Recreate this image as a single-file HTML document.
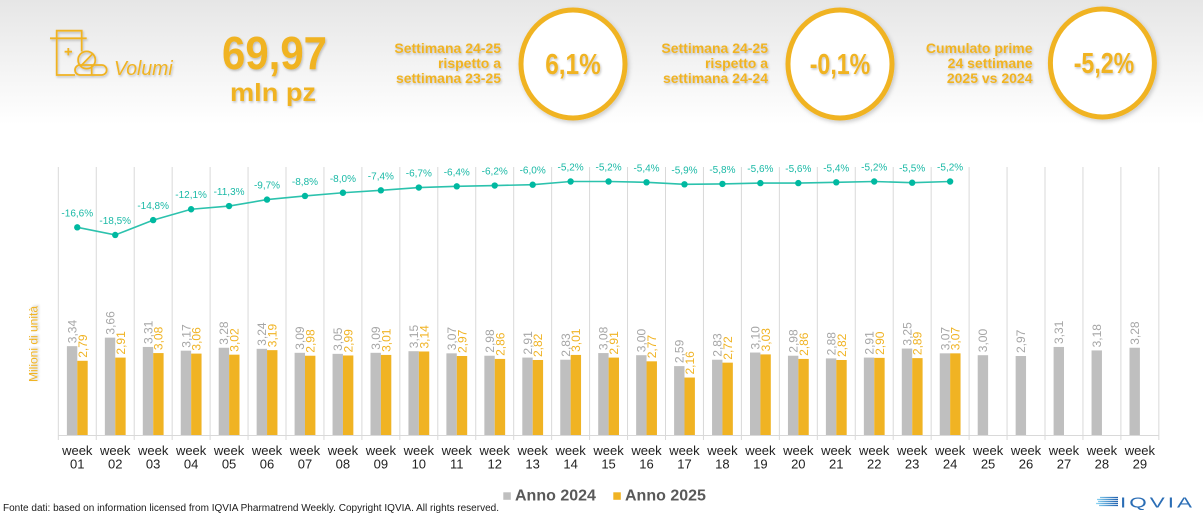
<!DOCTYPE html>
<html><head><meta charset="utf-8"><style>
html,body{margin:0;padding:0;background:#fff;}
svg{display:block;font-family:"Liberation Sans",Arial,sans-serif;}
</style></head><body>
<svg width="1203" height="517" viewBox="0 0 1203 517" xmlns="http://www.w3.org/2000/svg">
<defs>
<linearGradient id="hg" x1="0" y1="0" x2="0" y2="1">
<stop offset="0" stop-color="#e6e6e6"/><stop offset="0.55" stop-color="#f4f4f4"/><stop offset="1" stop-color="#ffffff"/>
</linearGradient>
<linearGradient id="lg" x1="0" y1="0" x2="1" y2="0">
<stop offset="0" stop-color="#8fd8f5"/><stop offset="1" stop-color="#1d5fae"/>
</linearGradient>
<filter id="sh" x="-20%" y="-20%" width="140%" height="140%"><feDropShadow dx="1" dy="1.5" stdDeviation="1" flood-color="#000" flood-opacity="0.22"/></filter>
<filter id="sh2" x="-20%" y="-20%" width="140%" height="140%"><feDropShadow dx="1.5" dy="2" stdDeviation="2" flood-color="#000" flood-opacity="0.2"/></filter>
</defs>
<rect x="0" y="0" width="1203" height="125" fill="url(#hg)"/>

<!-- icon -->
<g fill="none" stroke="#f0b323" stroke-width="1.8" filter="url(#sh)">
<path d="M56.7 38.3V30.7H81.7V38.3 M50 38.3H86.7 M56.7 38.3V75H75 M81.7 38.3V51.5 M68.3 48V55.4 M64.6 51.7H72"/>
<circle cx="86.7" cy="60" r="8.6"/>
<path d="M92.5 54 L80.8 66"/>
<rect x="75" y="65" width="31.7" height="10" rx="5" ry="5"/>
<path d="M91.7 65V75"/>
</g>
<text x="114" y="75" font-size="20" font-style="italic" fill="#f0b323" textLength="58.7" lengthAdjust="spacingAndGlyphs" filter="url(#sh)">Volumi</text>

<g fill="#f0b323" font-weight="bold" filter="url(#sh)">
<text x="222" y="69" font-size="46" textLength="105" lengthAdjust="spacingAndGlyphs">69,97</text>
<text x="230" y="101" font-size="25" textLength="86" lengthAdjust="spacingAndGlyphs">mln pz</text>
<g font-size="14" text-anchor="end">
<text x="501" y="53">Settimana 24-25</text>
<text x="501" y="68">rispetto a</text>
<text x="501" y="83">settimana 23-25</text>
<text x="768" y="53">Settimana 24-25</text>
<text x="768" y="68">rispetto a</text>
<text x="768" y="83">settimana 24-24</text>
<text x="1032.5" y="53">Cumulato prime</text>
<text x="1032.5" y="68">24 settimane</text>
<text x="1032.5" y="83">2025 vs 2024</text>
</g>
</g>

<g fill="#ffffff" stroke="#f0b323" stroke-width="5" filter="url(#sh2)">
<ellipse cx="573" cy="64" rx="52" ry="54"/>
<ellipse cx="840" cy="64" rx="52" ry="54"/>
<ellipse cx="1102.4" cy="63" rx="52" ry="54"/>
</g>
<g fill="#f0b323" font-weight="bold" font-size="29" text-anchor="middle" filter="url(#sh)">
<text transform="translate(573,74) scale(0.84,1)">6,1%</text>
<text transform="translate(840,74) scale(0.8,1)">-0,1%</text>
<text transform="translate(1104,73) scale(0.8,1)">-5,2%</text>
</g>

<!-- grid -->
<path fill="none" stroke="#d9d9d9" stroke-width="1" d="M58.3 167V440 M96.25 167V440 M134.2 167V440 M172.15 167V440 M210.1 167V440 M248.05 167V440 M286 167V440 M323.95 167V440 M361.9 167V440 M399.85 167V440 M437.8 167V440 M475.75 167V440 M513.7 167V440 M551.65 167V440 M589.6 167V440 M627.55 167V440 M665.5 167V440 M703.45 167V440 M741.4 167V440 M779.35 167V440 M817.3 167V440 M855.25 167V440 M893.2 167V440 M931.15 167V440 M969.1 167V440 M1007.05 167V440 M1045 167V440 M1082.95 167V440 M1120.9 167V440 M1158.85 167V440 M58.3 435.5H1158.85"/>

<!-- gray bars -->
<g fill="#bfbfbf">
<rect x="66.9" y="346.16" width="10.4" height="88.84"/>
<rect x="104.85" y="337.64" width="10.4" height="97.36"/>
<rect x="142.8" y="346.95" width="10.4" height="88.05"/>
<rect x="180.75" y="350.68" width="10.4" height="84.32"/>
<rect x="218.7" y="347.75" width="10.4" height="87.25"/>
<rect x="256.65" y="348.82" width="10.4" height="86.18"/>
<rect x="294.6" y="352.81" width="10.4" height="82.19"/>
<rect x="332.55" y="353.87" width="10.4" height="81.13"/>
<rect x="370.5" y="352.81" width="10.4" height="82.19"/>
<rect x="408.45" y="351.21" width="10.4" height="83.79"/>
<rect x="446.4" y="353.34" width="10.4" height="81.66"/>
<rect x="484.35" y="355.73" width="10.4" height="79.27"/>
<rect x="522.3" y="357.59" width="10.4" height="77.41"/>
<rect x="560.25" y="359.72" width="10.4" height="75.28"/>
<rect x="598.2" y="353.07" width="10.4" height="81.93"/>
<rect x="636.15" y="355.2" width="10.4" height="79.8"/>
<rect x="674.1" y="366.11" width="10.4" height="68.89"/>
<rect x="712.05" y="359.72" width="10.4" height="75.28"/>
<rect x="750" y="352.54" width="10.4" height="82.46"/>
<rect x="787.95" y="355.73" width="10.4" height="79.27"/>
<rect x="825.9" y="358.39" width="10.4" height="76.61"/>
<rect x="863.85" y="357.59" width="10.4" height="77.41"/>
<rect x="901.8" y="348.55" width="10.4" height="86.45"/>
<rect x="939.75" y="353.34" width="10.4" height="81.66"/>
<rect x="977.7" y="355.2" width="10.4" height="79.8"/>
<rect x="1015.65" y="356" width="10.4" height="79"/>
<rect x="1053.6" y="346.95" width="10.4" height="88.05"/>
<rect x="1091.55" y="350.41" width="10.4" height="84.59"/>
<rect x="1129.5" y="347.75" width="10.4" height="87.25"/>
</g>
<!-- orange bars -->
<g fill="#f0b323">
<rect x="77.3" y="360.79" width="10.4" height="74.21"/>
<rect x="115.25" y="357.59" width="10.4" height="77.41"/>
<rect x="153.2" y="353.07" width="10.4" height="81.93"/>
<rect x="191.15" y="353.6" width="10.4" height="81.4"/>
<rect x="229.1" y="354.67" width="10.4" height="80.33"/>
<rect x="267.05" y="350.15" width="10.4" height="84.85"/>
<rect x="305" y="355.73" width="10.4" height="79.27"/>
<rect x="342.95" y="355.47" width="10.4" height="79.53"/>
<rect x="380.9" y="354.93" width="10.4" height="80.07"/>
<rect x="418.85" y="351.48" width="10.4" height="83.52"/>
<rect x="456.8" y="356" width="10.4" height="79"/>
<rect x="494.75" y="358.92" width="10.4" height="76.08"/>
<rect x="532.7" y="359.99" width="10.4" height="75.01"/>
<rect x="570.65" y="354.93" width="10.4" height="80.07"/>
<rect x="608.6" y="357.59" width="10.4" height="77.41"/>
<rect x="646.55" y="361.32" width="10.4" height="73.68"/>
<rect x="684.5" y="377.54" width="10.4" height="57.46"/>
<rect x="722.45" y="362.65" width="10.4" height="72.35"/>
<rect x="760.4" y="354.4" width="10.4" height="80.6"/>
<rect x="798.35" y="358.92" width="10.4" height="76.08"/>
<rect x="836.3" y="359.99" width="10.4" height="75.01"/>
<rect x="874.25" y="357.86" width="10.4" height="77.14"/>
<rect x="912.2" y="358.13" width="10.4" height="76.87"/>
<rect x="950.15" y="353.34" width="10.4" height="81.66"/>
</g>

<!-- gray labels -->
<g fill="#a6a6a6" font-size="12">
<text transform="translate(76.4,343.2) rotate(-90)">3,34</text>
<text transform="translate(114.35,334.6) rotate(-90)">3,66</text>
<text transform="translate(152.3,344) rotate(-90)">3,31</text>
<text transform="translate(190.25,347.7) rotate(-90)">3,17</text>
<text transform="translate(228.2,344.8) rotate(-90)">3,28</text>
<text transform="translate(266.15,345.8) rotate(-90)">3,24</text>
<text transform="translate(304.1,349.8) rotate(-90)">3,09</text>
<text transform="translate(342.05,350.9) rotate(-90)">3,05</text>
<text transform="translate(380,349.8) rotate(-90)">3,09</text>
<text transform="translate(417.95,348.2) rotate(-90)">3,15</text>
<text transform="translate(455.9,350.3) rotate(-90)">3,07</text>
<text transform="translate(493.85,352.7) rotate(-90)">2,98</text>
<text transform="translate(531.8,354.6) rotate(-90)">2,91</text>
<text transform="translate(569.75,356.7) rotate(-90)">2,83</text>
<text transform="translate(607.7,350.1) rotate(-90)">3,08</text>
<text transform="translate(645.65,352.2) rotate(-90)">3,00</text>
<text transform="translate(683.6,363.1) rotate(-90)">2,59</text>
<text transform="translate(721.55,356.7) rotate(-90)">2,83</text>
<text transform="translate(759.5,349.5) rotate(-90)">3,10</text>
<text transform="translate(797.45,352.7) rotate(-90)">2,98</text>
<text transform="translate(835.4,355.4) rotate(-90)">2,88</text>
<text transform="translate(873.35,354.6) rotate(-90)">2,91</text>
<text transform="translate(911.3,345.6) rotate(-90)">3,25</text>
<text transform="translate(949.25,350.3) rotate(-90)">3,07</text>
<text transform="translate(987.2,352.2) rotate(-90)">3,00</text>
<text transform="translate(1025.15,353) rotate(-90)">2,97</text>
<text transform="translate(1063.1,344) rotate(-90)">3,31</text>
<text transform="translate(1101.05,347.4) rotate(-90)">3,18</text>
<text transform="translate(1139,344.8) rotate(-90)">3,28</text>
</g>
<!-- orange labels -->
<g fill="#f0b323" font-size="12">
<text transform="translate(86.8,357.8) rotate(-90)">2,79</text>
<text transform="translate(124.75,354.6) rotate(-90)">2,91</text>
<text transform="translate(162.7,350.1) rotate(-90)">3,08</text>
<text transform="translate(200.65,350.6) rotate(-90)">3,06</text>
<text transform="translate(238.6,351.7) rotate(-90)">3,02</text>
<text transform="translate(276.55,347.2) rotate(-90)">3,19</text>
<text transform="translate(314.5,352.7) rotate(-90)">2,98</text>
<text transform="translate(352.45,352.5) rotate(-90)">2,99</text>
<text transform="translate(390.4,351.9) rotate(-90)">3,01</text>
<text transform="translate(428.35,348.5) rotate(-90)">3,14</text>
<text transform="translate(466.3,353) rotate(-90)">2,97</text>
<text transform="translate(504.25,355.9) rotate(-90)">2,86</text>
<text transform="translate(542.2,357) rotate(-90)">2,82</text>
<text transform="translate(580.15,351.9) rotate(-90)">3,01</text>
<text transform="translate(618.1,354.6) rotate(-90)">2,91</text>
<text transform="translate(656.05,358.3) rotate(-90)">2,77</text>
<text transform="translate(694,374.5) rotate(-90)">2,16</text>
<text transform="translate(731.95,359.7) rotate(-90)">2,72</text>
<text transform="translate(769.9,351.4) rotate(-90)">3,03</text>
<text transform="translate(807.85,355.9) rotate(-90)">2,86</text>
<text transform="translate(845.8,357) rotate(-90)">2,82</text>
<text transform="translate(883.75,354.9) rotate(-90)">2,90</text>
<text transform="translate(921.7,355.1) rotate(-90)">2,89</text>
<text transform="translate(959.65,350.3) rotate(-90)">3,07</text>
</g>

<!-- line -->
<polyline fill="none" stroke="#2cc2ad" stroke-width="1.6" points="77.27,227.33 115.22,234.97 153.17,220.1 191.12,209.24 229.07,206.03 267.02,199.59 304.97,195.98 342.92,192.76 380.87,190.35 418.82,187.53 456.77,186.33 494.72,185.52 532.67,184.72 570.62,181.5 608.57,181.5 646.52,182.31 684.47,184.32 722.42,183.92 760.37,183.11 798.32,183.11 836.27,182.31 874.22,181.5 912.17,182.71 950.12,181.5"/>
<g fill="#00b9a1">
<circle cx="77.27" cy="227.33" r="3.2"/><circle cx="115.22" cy="234.97" r="3.2"/><circle cx="153.17" cy="220.1" r="3.2"/><circle cx="191.12" cy="209.24" r="3.2"/><circle cx="229.07" cy="206.03" r="3.2"/><circle cx="267.02" cy="199.59" r="3.2"/><circle cx="304.97" cy="195.98" r="3.2"/><circle cx="342.92" cy="192.76" r="3.2"/><circle cx="380.87" cy="190.35" r="3.2"/><circle cx="418.82" cy="187.53" r="3.2"/><circle cx="456.77" cy="186.33" r="3.2"/><circle cx="494.72" cy="185.52" r="3.2"/><circle cx="532.67" cy="184.72" r="3.2"/><circle cx="570.62" cy="181.5" r="3.2"/><circle cx="608.57" cy="181.5" r="3.2"/><circle cx="646.52" cy="182.31" r="3.2"/><circle cx="684.47" cy="184.32" r="3.2"/><circle cx="722.42" cy="183.92" r="3.2"/><circle cx="760.37" cy="183.11" r="3.2"/><circle cx="798.32" cy="183.11" r="3.2"/><circle cx="836.27" cy="182.31" r="3.2"/><circle cx="874.22" cy="181.5" r="3.2"/><circle cx="912.17" cy="182.71" r="3.2"/><circle cx="950.12" cy="181.5" r="3.2"/>
</g>
<g fill="#1ab9a6" font-size="10" text-anchor="middle">
<text x="77.27" y="216.3">-16,6%</text>
<text x="115.22" y="224">-18,5%</text>
<text x="153.17" y="209.1">-14,8%</text>
<text x="191.12" y="198.2">-12,1%</text>
<text x="229.07" y="195">-11,3%</text>
<text x="267.02" y="188.6">-9,7%</text>
<text x="304.97" y="185">-8,8%</text>
<text x="342.92" y="181.8">-8,0%</text>
<text x="380.87" y="179.4">-7,4%</text>
<text x="418.82" y="176.5">-6,7%</text>
<text x="456.77" y="175.3">-6,4%</text>
<text x="494.72" y="174.5">-6,2%</text>
<text x="532.67" y="173.7">-6,0%</text>
<text x="570.62" y="170.5">-5,2%</text>
<text x="608.57" y="170.5">-5,2%</text>
<text x="646.52" y="171.3">-5,4%</text>
<text x="684.47" y="173.3">-5,9%</text>
<text x="722.42" y="172.9">-5,8%</text>
<text x="760.37" y="172.1">-5,6%</text>
<text x="798.32" y="172.1">-5,6%</text>
<text x="836.27" y="171.3">-5,4%</text>
<text x="874.22" y="170.5">-5,2%</text>
<text x="912.17" y="171.7">-5,5%</text>
<text x="950.12" y="170.5">-5,2%</text>
</g>

<!-- x labels -->
<g fill="#222" font-size="13" text-anchor="middle">
<text x="77.27" y="455">week</text><text x="77.27" y="468.5">01</text>
<text x="115.22" y="455">week</text><text x="115.22" y="468.5">02</text>
<text x="153.17" y="455">week</text><text x="153.17" y="468.5">03</text>
<text x="191.12" y="455">week</text><text x="191.12" y="468.5">04</text>
<text x="229.07" y="455">week</text><text x="229.07" y="468.5">05</text>
<text x="267.02" y="455">week</text><text x="267.02" y="468.5">06</text>
<text x="304.97" y="455">week</text><text x="304.97" y="468.5">07</text>
<text x="342.92" y="455">week</text><text x="342.92" y="468.5">08</text>
<text x="380.87" y="455">week</text><text x="380.87" y="468.5">09</text>
<text x="418.82" y="455">week</text><text x="418.82" y="468.5">10</text>
<text x="456.77" y="455">week</text><text x="456.77" y="468.5">11</text>
<text x="494.72" y="455">week</text><text x="494.72" y="468.5">12</text>
<text x="532.67" y="455">week</text><text x="532.67" y="468.5">13</text>
<text x="570.62" y="455">week</text><text x="570.62" y="468.5">14</text>
<text x="608.57" y="455">week</text><text x="608.57" y="468.5">15</text>
<text x="646.52" y="455">week</text><text x="646.52" y="468.5">16</text>
<text x="684.47" y="455">week</text><text x="684.47" y="468.5">17</text>
<text x="722.42" y="455">week</text><text x="722.42" y="468.5">18</text>
<text x="760.37" y="455">week</text><text x="760.37" y="468.5">19</text>
<text x="798.32" y="455">week</text><text x="798.32" y="468.5">20</text>
<text x="836.27" y="455">week</text><text x="836.27" y="468.5">21</text>
<text x="874.22" y="455">week</text><text x="874.22" y="468.5">22</text>
<text x="912.17" y="455">week</text><text x="912.17" y="468.5">23</text>
<text x="950.12" y="455">week</text><text x="950.12" y="468.5">24</text>
<text x="988.07" y="455">week</text><text x="988.07" y="468.5">25</text>
<text x="1026.02" y="455">week</text><text x="1026.02" y="468.5">26</text>
<text x="1063.97" y="455">week</text><text x="1063.97" y="468.5">27</text>
<text x="1101.92" y="455">week</text><text x="1101.92" y="468.5">28</text>
<text x="1139.87" y="455">week</text><text x="1139.87" y="468.5">29</text>
</g>

<!-- y title -->
<text transform="translate(37.5,344) rotate(-90)" text-anchor="middle" font-size="12" fill="#f0b323" filter="url(#sh)">Milioni di unità</text>

<!-- legend -->
<rect x="503.3" y="492.3" width="7.5" height="7.5" fill="#bfbfbf"/>
<text x="515" y="500.7" font-size="16" font-weight="bold" fill="#595959">Anno 2024</text>
<rect x="613.3" y="492.3" width="7.5" height="7.5" fill="#f0b323"/>
<text x="625" y="500.7" font-size="16" font-weight="bold" fill="#595959">Anno 2025</text>

<!-- footnote -->
<text x="3" y="511" font-size="10" fill="#1a1a1a" textLength="496" lengthAdjust="spacingAndGlyphs">Fonte dati: based on information licensed from IQVIA Pharmatrend Weekly. Copyright IQVIA. All rights reserved.</text>

<!-- logo -->
<g stroke="url(#lg)" stroke-width="1.3">
<path d="M1100 497.5H1118 M1097 499.5H1118 M1098 501.5H1118 M1096 503.5H1118 M1099 505.5H1118"/>
</g>
<text x="1120" y="507.5" font-size="15" fill="#2a6db5" letter-spacing="2" textLength="75" lengthAdjust="spacingAndGlyphs">IQVIA</text>
</svg>
</body></html>
